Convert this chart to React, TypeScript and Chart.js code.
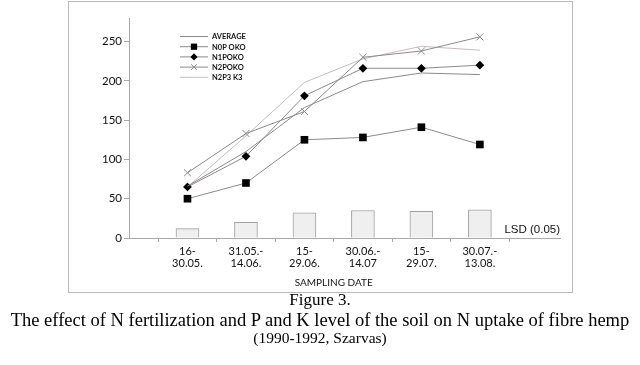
import React, { useEffect, useRef } from 'react';
import { Chart, registerables } from 'chart.js';
Chart.register(...registerables);

const categories: string[][] = [
  ['16-', '30.05.'],
  ['31.05.-', '14.06.'],
  ['15-', '29.06.'],
  ['30.06.-', '14.07'],
  ['15-', '29.07.'],
  ['30.07.-', '13.08.'],
];
const average = [66, 110, 166, 199, 210, 208];
const n0p0k0 = [50, 70, 125, 128, 141, 119];
const n1p0k0 = [65, 104, 181, 216, 216, 220];
const n2p0k0 = [83, 133, 161, 230, 238, 256];
const n2p3k3 = [65, 130, 198, 228, 244, 239];
const lsd = [12, 20, 32, 35, 34, 36];
const yTicks = [0, 50, 100, 150, 200, 250];
const legendNames = ['AVERAGE', 'N0P0K0', 'N1P0K0', 'N2P0K0', 'N2P3 K3'];
const legendLabels = ['AVERAGE', 'N0P OKO', 'N1POKO', 'N2POKO', 'N2P3 K3'];
const lsdLabel = 'LSD (0.05)';
const xTitle = 'SAMPLING DATE';
const caption = [
  'Figure 3.',
  'The effect of N fertilization and P and K level of the soil on N uptake of fibre hemp',
  '(1990-1992, Szarvas)',
];

const pts = (arr: number[]) => arr.map((v, i) => ({ x: i + 1, y: v }));

const LINE_DARK = '#8a8a8a';
const LINE_LIGHT = '#c4bcbc';

function drawMarker(ctx: CanvasRenderingContext2D, style: string, x: number, y: number, r: number, color: string) {
  ctx.save();
  ctx.fillStyle = color;
  ctx.strokeStyle = color;
  ctx.lineWidth = 1;
  ctx.beginPath();
  if (style === 'rect') {
    const s = Math.SQRT1_2 * r;
    ctx.rect(x - s, y - s, 2 * s, 2 * s);
    ctx.fill();
  } else if (style === 'rectRot') {
    ctx.moveTo(x - r, y);
    ctx.lineTo(x, y - r);
    ctx.lineTo(x + r, y);
    ctx.lineTo(x, y + r);
    ctx.closePath();
    ctx.fill();
  } else if (style === 'crossRot') {
    const s = Math.SQRT1_2 * r;
    ctx.moveTo(x - s, y - s);
    ctx.lineTo(x + s, y + s);
    ctx.moveTo(x + s, y - s);
    ctx.lineTo(x - s, y + s);
    ctx.stroke();
  }
  ctx.restore();
}

export default function App() {
  const ref = useRef<HTMLCanvasElement>(null);
  useEffect(() => {
    const canvas = ref.current;
    if (!canvas) return;
    const legendStyles = [
      { color: LINE_DARK, style: '', mc: '#000', r: 0 },
      { color: LINE_DARK, style: 'rect', mc: '#000', r: 5.2 },
      { color: LINE_DARK, style: 'rectRot', mc: '#000', r: 4.2 },
      { color: LINE_DARK, style: 'crossRot', mc: '#888', r: 4.8 },
      { color: LINE_LIGHT, style: '', mc: '#000', r: 0 },
    ];
    const overlay = {
      id: 'overlay',
      afterDraw(chart: any) {
        const { ctx, chartArea, scales } = chart;
        const xs = scales.x;
        const ys = scales.y;
        ctx.save();
        const lx = chartArea.left + 51;
        const ly = chartArea.top + 18;
        legendNames.forEach((_, i) => {
          const y = ly + i * 10.2;
          const st = legendStyles[i];
          ctx.strokeStyle = st.color;
          ctx.lineWidth = 1;
          ctx.beginPath();
          ctx.moveTo(lx, y + 0.5);
          ctx.lineTo(lx + 28, y + 0.5);
          ctx.stroke();
          if (st.style) drawMarker(ctx, st.style, lx + 14, y + 0.5, st.r * 0.85, st.mc);
          ctx.fillStyle = '#111';
          ctx.font = 'bold 7.5px Lato';
          ctx.textAlign = 'left';
          ctx.textBaseline = 'middle';
          ctx.fillText(legendLabels[i], lx + 32, y + 1);
        });
        ctx.font = '11.5px "Liberation Sans"';
        ctx.fillStyle = '#111';
        ctx.textAlign = 'right';
        ctx.textBaseline = 'middle';
        ctx.fillText(lsdLabel, chartArea.right, ys.getPixelForValue(10));
        ctx.font = '10px Lato';
        ctx.textAlign = 'center';
        const cx = (xs.getPixelForValue(1) + xs.getPixelForValue(6)) / 2;
        ctx.fillText(xTitle, cx, chartArea.bottom + 45);
        ctx.restore();
      },
    };
    const chart = new Chart(canvas, {
      type: 'line',
      data: {
        datasets: [
          {
            type: 'bar',
            label: lsdLabel,
            data: pts(lsd) as any,
            backgroundColor: '#efefef',
            borderColor: '#a0a0a0',
            borderWidth: 1,
            barThickness: 23,
            order: 10,
          } as any,
          {
            label: legendNames[0],
            data: pts(average),
            borderColor: LINE_DARK,
            borderWidth: 1,
            pointRadius: 0,
          },
          {
            label: legendNames[1],
            data: pts(n0p0k0),
            borderColor: LINE_DARK,
            borderWidth: 1,
            pointStyle: 'rect',
            pointRadius: 5.4,
            pointBackgroundColor: '#000',
            pointBorderColor: '#000',
            pointBorderWidth: 0,
          },
          {
            label: legendNames[2],
            data: pts(n1p0k0),
            borderColor: LINE_DARK,
            borderWidth: 1,
            pointStyle: 'rectRot',
            pointRadius: 4.4,
            pointBackgroundColor: '#000',
            pointBorderColor: '#000',
            pointBorderWidth: 0,
          },
          {
            label: legendNames[3],
            data: pts(n2p0k0),
            borderColor: LINE_DARK,
            borderWidth: 1,
            pointStyle: 'crossRot',
            pointRadius: 5,
            pointBorderColor: '#888',
            pointBorderWidth: 1,
          },
          {
            label: legendNames[4],
            data: pts(n2p3k3),
            borderColor: LINE_LIGHT,
            borderWidth: 1,
            pointRadius: 0,
          },
        ],
      },
      options: {
        responsive: false,
        animation: false,
        layout: { padding: { left: 0, top: 18, right: 80, bottom: 0 } },
        plugins: { legend: { display: false }, tooltip: { enabled: false } },
        scales: {
          x: {
            type: 'linear',
            min: 0,
            max: 7.37,
            offset: false,
            afterBuildTicks: (s: any) => {
              s.ticks = categories.map((_, i) => ({ value: i + 1 }));
            },
            afterFit: (s: any) => {
              s.height = 57;
            },
            grid: { drawOnChartArea: false, drawTicks: true, tickLength: 4, color: '#a8a8a8' },
            border: { color: '#a8a8a8', width: 1 },
            ticks: {
              autoSkip: false,
              maxRotation: 0,
              padding: 4,
              color: '#111',
              font: { family: 'Lato', size: 11, lineHeight: 1.05 },
              callback: (v: any) => {
                const i = Math.round(Number(v)) - 1;
                return categories[i] || '';
              },
            },
          },
          y: {
            min: 0,
            max: 280,
            afterBuildTicks: (s: any) => {
              s.ticks = yTicks.map((v) => ({ value: v }));
            },
            afterFit: (s: any) => {
              s.width = 129;
            },
            grid: { drawOnChartArea: false, drawTicks: true, tickLength: 5, color: '#a8a8a8' },
            border: { color: '#a8a8a8', width: 1 },
            ticks: {
              padding: 2,
              color: '#111',
              font: { family: 'Lato', size: 11.5 },
            },
          },
        },
      },
      plugins: [overlay],
    } as any);
    return () => chart.destroy();
  }, []);

  const capTops = [290, 310, 328];
  const capSizes = [17, 18.5, 15.5];
  return (
    <div style={{ position: 'absolute', left: 0, top: 0, width: 640, height: 365, background: '#fff' }}>
      <div
        style={{
          position: 'absolute',
          left: 68,
          top: 1,
          width: 505,
          height: 292,
          border: '1px solid #b8b8b8',
          boxSizing: 'border-box',
        }}
      />
      <canvas ref={ref} width={640} height={295} style={{ position: 'absolute', left: 0, top: 0 }} />
      {caption.map((c, i) => (
        <div
          key={i}
          style={{
            position: 'absolute',
            left: 0,
            top: capTops[i],
            width: 640,
            textAlign: 'center',
            whiteSpace: 'nowrap',
            fontFamily: '"Liberation Serif", "Times New Roman", serif',
            fontSize: capSizes[i],
            lineHeight: '20px',
            color: '#000',
          }}
        >
          {c}
        </div>
      ))}
    </div>
  );
}
